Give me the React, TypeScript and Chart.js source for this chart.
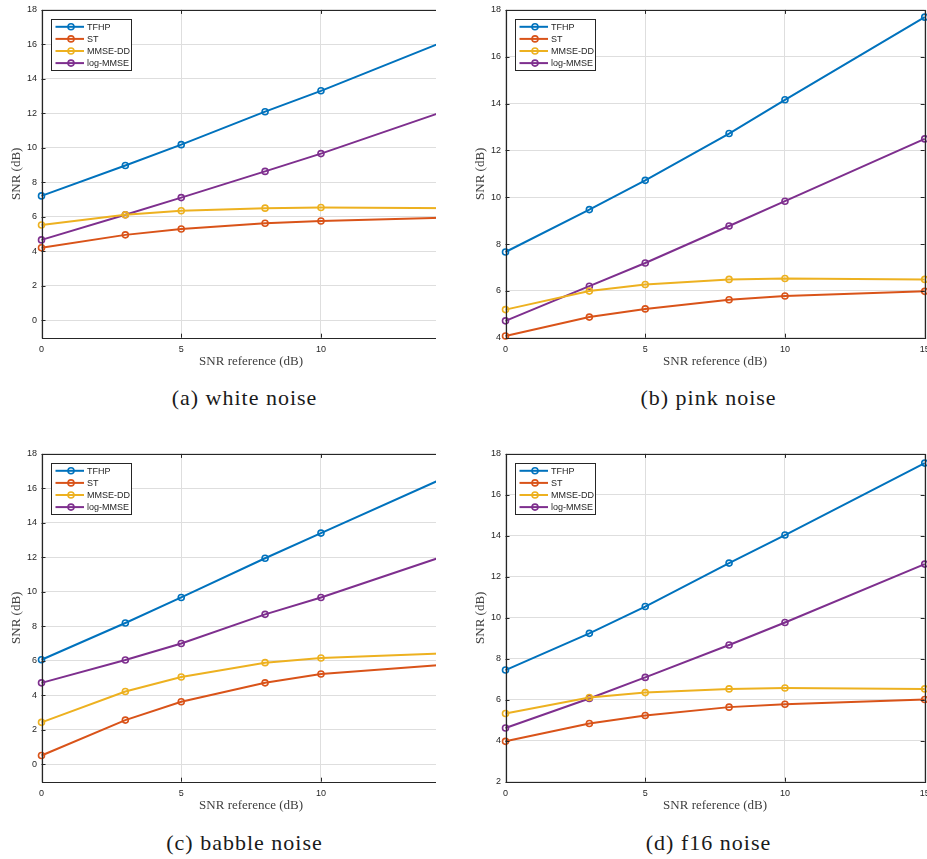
import React, { useEffect, useRef } from "react";
import { Chart, registerables } from "chart.js";

Chart.register(...registerables);

// Reference SNR levels (dB) on the horizontal axis
const snrRef = [0, 3, 5, 8, 10, 15];
const xTickValues = [0, 5, 10, 15];

const seriesNames = ["TFHP", "ST", "MMSE-DD", "log-MMSE"];
const seriesColors = ["#0072BD", "#D95319", "#EDB120", "#7E2F8E"];

// (a) white noise
const whiteTFHP = [7.22, 8.98, 10.19, 12.1, 13.31, 16.55];
const whiteST = [4.21, 4.96, 5.3, 5.63, 5.76, 5.98];
const whiteMMSEDD = [5.53, 6.12, 6.36, 6.51, 6.55, 6.5];
const whiteLogMMSE = [4.67, 6.13, 7.12, 8.64, 9.67, 12.45];

// (b) pink noise
const pinkTFHP = [7.66, 9.47, 10.72, 12.72, 14.16, 17.69];
const pinkST = [4.07, 4.88, 5.23, 5.62, 5.78, 5.98];
const pinkMMSEDD = [5.2, 5.99, 6.27, 6.49, 6.53, 6.49];
const pinkLogMMSE = [4.72, 6.2, 7.19, 8.77, 9.83, 12.49];

// (c) babble noise
const babbleTFHP = [6.07, 8.2, 9.68, 11.95, 13.41, 17.04];
const babbleST = [0.52, 2.57, 3.63, 4.73, 5.24, 5.85];
const babbleMMSEDD = [2.44, 4.23, 5.07, 5.9, 6.17, 6.47];
const babbleLogMMSE = [4.73, 6.05, 7.01, 8.7, 9.68, 12.4];

// (d) f16 noise
const f16TFHP = [7.45, 9.24, 10.55, 12.67, 14.04, 17.55];
const f16ST = [3.97, 4.84, 5.23, 5.64, 5.78, 6.01];
const f16MMSEDD = [5.33, 6.11, 6.35, 6.53, 6.57, 6.53];
const f16LogMMSE = [4.62, 6.06, 7.09, 8.67, 9.77, 12.62];

// y-axis tick labels per panel
const yTicksFromMinusOne = [0, 2, 4, 6, 8, 10, 12, 14, 16, 18];
const yTicksFromFour = [4, 6, 8, 10, 12, 14, 16, 18];
const yTicksFromTwo = [2, 4, 6, 8, 10, 12, 14, 16, 18];

const captions = ["(a) white noise", "(b) pink noise", "(c) babble noise", "(d) f16 noise"];

const CANVAS_W = 480;
const CANVAS_H = 380;
const AXIS_COLOR = "#262626";
const GRID_COLOR = "#dedede";
const SANS = "'Liberation Sans', Arial, Helvetica, sans-serif";
const SERIF = "'Liberation Serif', 'Times New Roman', serif";

type PanelSpec = {
  series: number[][];
  yMin: number;
  yTicks: number[];
  left: number;
  top: number;
  clipWidth: number;
};

const panels: PanelSpec[] = [
  { series: [whiteTFHP, whiteST, whiteMMSEDD, whiteLogMMSE], yMin: -1, yTicks: yTicksFromMinusOne, left: 0, top: 0, clipWidth: 435.5 },
  { series: [pinkTFHP, pinkST, pinkMMSEDD, pinkLogMMSE], yMin: 4, yTicks: yTicksFromFour, left: 463.8, top: 0, clipWidth: CANVAS_W },
  { series: [babbleTFHP, babbleST, babbleMMSEDD, babbleLogMMSE], yMin: -1, yTicks: yTicksFromMinusOne, left: 0, top: 444.4, clipWidth: 435.5 },
  { series: [f16TFHP, f16ST, f16MMSEDD, f16LogMMSE], yMin: 2, yTicks: yTicksFromTwo, left: 463.8, top: 444.4, clipWidth: CANVAS_W },
];

// Box around the axes with inward tick marks on all four sides, plus the legend
const axesBoxPlugin = {
  id: "axesBox",
  afterDraw(chart: any) {
    const { ctx, chartArea } = chart;
    const { left, right, top, bottom } = chartArea;
    const xs = chart.scales.x;
    const ys = chart.scales.y;
    const tl = 4;
    ctx.save();
    ctx.strokeStyle = AXIS_COLOR;
    ctx.lineWidth = 1.2;
    ctx.beginPath();
    ctx.rect(Math.round(left) + 0.5, Math.round(top) + 0.5, Math.round(right - left), Math.round(bottom - top));
    ctx.stroke();
    ctx.lineWidth = 1;
    ctx.beginPath();
    for (const t of xs.ticks) {
      const px = Math.round(xs.getPixelForValue(t.value)) + 0.5;
      ctx.moveTo(px, bottom);
      ctx.lineTo(px, bottom - tl);
      ctx.moveTo(px, top);
      ctx.lineTo(px, top + tl);
    }
    for (const t of ys.ticks) {
      const py = Math.round(ys.getPixelForValue(t.value)) + 0.5;
      ctx.moveTo(left, py);
      ctx.lineTo(left + tl, py);
      ctx.moveTo(right, py);
      ctx.lineTo(right - tl, py);
    }
    ctx.stroke();

    // legend: line + hollow circle marker per series
    const bx = Math.round(left + 9.5) + 0.5;
    const by = Math.round(top + 9) + 0.5;
    const bw = 80;
    const bh = 51;
    ctx.fillStyle = "#ffffff";
    ctx.fillRect(bx, by, bw, bh);
    ctx.strokeStyle = AXIS_COLOR;
    ctx.lineWidth = 1;
    ctx.strokeRect(bx, by, bw, bh);
    ctx.font = `9px ${SANS}`;
    ctx.textBaseline = "middle";
    ctx.textAlign = "left";
    seriesNames.forEach((name, i) => {
      const cy = by + 7.3 + i * 12.1;
      ctx.strokeStyle = seriesColors[i];
      ctx.lineWidth = 2;
      ctx.beginPath();
      ctx.moveTo(bx + 4, cy);
      ctx.lineTo(bx + 32.5, cy);
      ctx.stroke();
      ctx.lineWidth = 1.6;
      ctx.beginPath();
      ctx.arc(bx + 19.5, cy, 3, 0, Math.PI * 2);
      ctx.stroke();
      ctx.fillStyle = AXIS_COLOR;
      ctx.fillText(name, bx + 35.5, cy + 0.5);
    });
    ctx.restore();
  },
};

function Panel({ spec }: { spec: PanelSpec }) {
  const ref = useRef<HTMLCanvasElement>(null);
  useEffect(() => {
    const chart = new Chart(ref.current!, {
      type: "line",
      data: {
        datasets: spec.series.map((vals, i) => ({
          label: seriesNames[i],
          data: snrRef.map((x, j) => ({ x, y: vals[j] })),
          borderColor: seriesColors[i],
          backgroundColor: "rgba(0,0,0,0)",
          borderWidth: 2,
          pointRadius: 3,
          pointBorderWidth: 1.6,
          pointBorderColor: seriesColors[i],
          pointBackgroundColor: "rgba(0,0,0,0)",
          tension: 0,
          clip: false as any,
        })),
      },
      options: {
        animation: false,
        responsive: false,
        maintainAspectRatio: false,
        events: [],
        layout: { padding: { left: 0, top: 7.3, right: CANVAS_W - 460.7, bottom: CANVAS_H - 337.7 - 37 } },
        plugins: { legend: { display: false }, tooltip: { enabled: false } },
        scales: {
          x: {
            type: "linear",
            min: 0,
            max: 15,
            afterBuildTicks: (s: any) => {
              s.ticks = xTickValues.map((v) => ({ value: v }));
            },
            afterFit: (s: any) => {
              s.height = 37;
            },
            ticks: {
              color: AXIS_COLOR,
              font: { family: SANS, size: 9 },
              padding: 6,
              maxRotation: 0,
              autoSkip: false,
            },
            grid: { color: GRID_COLOR, lineWidth: 1, drawTicks: false },
            border: { display: false },
            title: {
              display: true,
              text: "SNR reference (dB)",
              color: "#404040",
              font: { family: SERIF, size: 13 },
              padding: { top: 0, bottom: 5 },
            },
          },
          y: {
            type: "linear",
            min: spec.yMin,
            max: 18,
            afterBuildTicks: (s: any) => {
              s.ticks = spec.yTicks.map((v) => ({ value: v }));
            },
            afterFit: (s: any) => {
              s.width = 41.5;
            },
            ticks: {
              color: AXIS_COLOR,
              font: { family: SANS, size: 9 },
              padding: 4.5,
              autoSkip: false,
            },
            grid: { color: GRID_COLOR, lineWidth: 1, drawTicks: false },
            border: { display: false },
            title: {
              display: true,
              text: "SNR (dB)",
              color: "#404040",
              font: { family: SERIF, size: 13 },
              padding: { top: 9, bottom: 0 },
            },
          },
        },
      },
      plugins: [axesBoxPlugin],
    } as any);
    return () => chart.destroy();
  }, [spec]);

  return (
    <div
      style={{
        position: "absolute",
        left: spec.left,
        top: spec.top,
        width: spec.clipWidth,
        height: CANVAS_H,
        overflow: "hidden",
      }}
    >
      <canvas ref={ref} width={CANVAS_W} height={CANVAS_H} style={{ width: CANVAS_W, height: CANVAS_H, display: "block" }} />
    </div>
  );
}

const captionPos = [
  { x: 244.5, y: 398 },
  { x: 708.5, y: 398 },
  { x: 244.5, y: 843 },
  { x: 708.5, y: 843 },
];

export default function App() {
  return (
    <div
      style={{
        position: "absolute",
        left: 0,
        top: 0,
        width: 927,
        height: 859,
        overflow: "hidden",
        background: "#ffffff",
      }}
    >
      {panels.map((p, i) => (
        <Panel key={i} spec={p} />
      ))}
      {captions.map((c, i) => (
        <div
          key={c}
          style={{
            position: "absolute",
            left: captionPos[i].x,
            top: captionPos[i].y,
            transform: "translate(-50%, -50%)",
            whiteSpace: "nowrap",
            fontFamily: SERIF,
            fontSize: 22,
            letterSpacing: 1,
            color: "#1a1a1a",
          }}
        >
          {c}
        </div>
      ))}
    </div>
  );
}
